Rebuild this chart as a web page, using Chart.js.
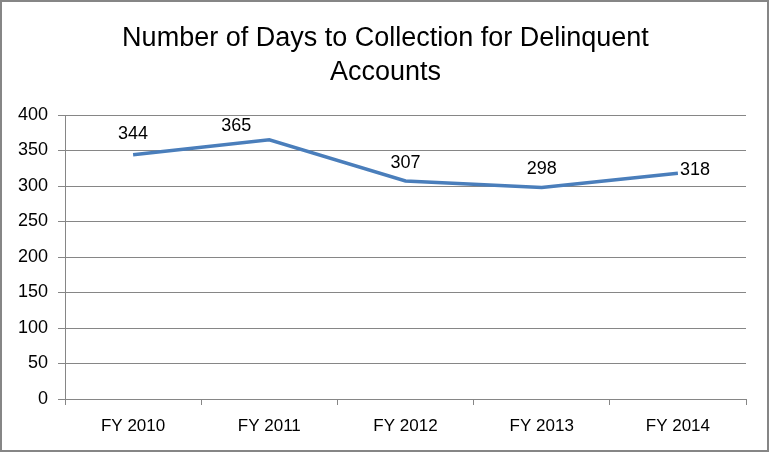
<!DOCTYPE html>
<html>
<head>
<meta charset="utf-8">
<script src="https://cdn.jsdelivr.net/npm/chart.js@4/dist/chart.umd.min.js"></script>
<style>
  html, body { margin: 0; padding: 0; background: #fff; }
  #wrap { width: 769px; height: 452px; box-sizing: border-box; border: 2px solid #868686; position: relative; }
  canvas { display: block; }
</style>
</head>
<body>
<div id="wrap"><canvas id="myChart" width="765" height="448"></canvas></div>
<script>
// chart data
const categories = ['FY 2010', 'FY 2011', 'FY 2012', 'FY 2013', 'FY 2014'];
const days = [344, 365, 307, 298, 318];
const titleLines = ['Number of Days to Collection for Delinquent', 'Accounts'];

const FONT = "'Liberation Sans', Arial, sans-serif";

// where each value label sits relative to its point (Excel nudged a couple)
const labelNudge = [[0, -21], [-33, -14], [0, -18], [0, -18], [17, -3]];

// title + point labels drawn by hand
const labelsPlugin = {
    id: 'labels',
    afterDatasetsDraw(chart) {
        const ctx = chart.ctx;
        ctx.save();
        ctx.fillStyle = '#000';
        ctx.font = '18px ' + FONT;
        ctx.textBaseline = 'middle';
        ctx.textAlign = 'center';
        const meta = chart.getDatasetMeta(0);
        meta.data.forEach((pt, i) => {
            const [dx, dy] = labelNudge[i];
            ctx.fillText(days[i], pt.x + dx, pt.y + dy);
        });
        ctx.font = '27px ' + FONT;
        const cx = chart.width / 2;
        ctx.fillText(titleLines[0], cx + 1, 37);
        ctx.fillText(titleLines[1], cx + 1, 71);
        ctx.restore();
    }
};

const ctx = document.getElementById('myChart').getContext('2d');
const myChart = new Chart(ctx, {
    type: 'line',
    data: {
        labels: categories,
        datasets: [{
            data: days,
            borderColor: '#4a7ebb',
            borderWidth: 3.5,
            pointRadius: 0,
            tension: 0,
            fill: false
        }]
    },
    options: {
        responsive: false,
        animation: false,
        layout: { padding: { top: 113, left: 0, right: 21, bottom: 0 } },
        plugins: {
            legend: { display: false },
            title: { display: false },
            tooltip: { enabled: false }
        },
        scales: {
            x: {
                offset: true,
                afterFit: (s) => { s.height = 51; },
                grid: { drawOnChartArea: false, drawTicks: true, tickLength: 6, color: '#868686', offset: true },
                border: { color: '#868686', width: 1 },
                ticks: { color: '#000', font: { size: 17, family: FONT }, padding: 11 }
            },
            y: {
                min: 0,
                max: 400,
                afterFit: (s) => { s.width = 63; },
                grid: { color: '#868686', tickLength: 7 },
                border: { color: '#868686', width: 1 },
                ticks: { stepSize: 50, color: '#000', font: { size: 18, family: FONT }, padding: 10 }
            }
        }
    },
    plugins: [labelsPlugin]
});
</script>
</body>
</html>
